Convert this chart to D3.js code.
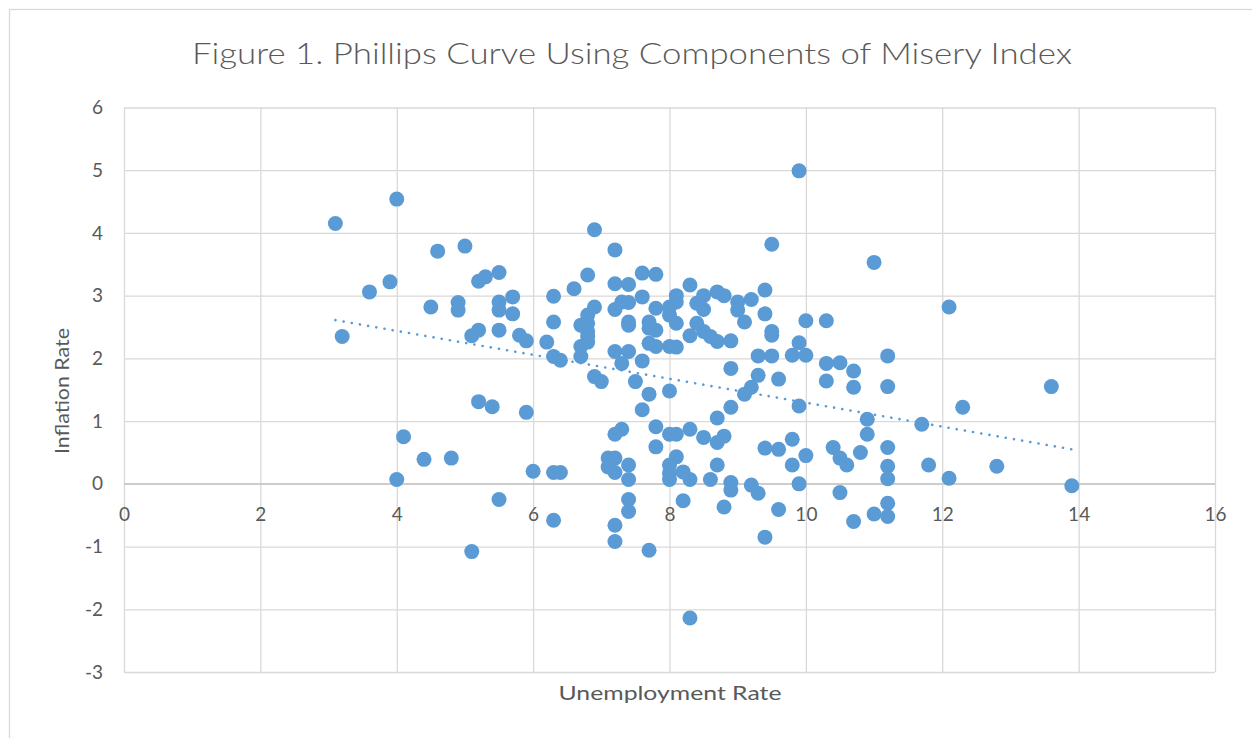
<!DOCTYPE html>
<html>
<head>
<meta charset="utf-8">
<script src="https://cdn.jsdelivr.net/npm/d3@7"></script>
<style>
  body { margin: 0; background: #fff; }
  svg { display: block; font-family: Lato, "Open Sans", sans-serif; }
  .grid line { stroke: #d9d9d9; stroke-width: 1.3; }
  .grid path { display: none; }
  .lbl text { fill: #595959; font-size: 19px; font-family: Lato, "Open Sans", sans-serif; }
  .lbl path, .lbl line { display: none; }
</style>
</head>
<body>
<svg id="chart" width="1252" height="738"></svg>
<script>
// data
var unemployment = [
  3.1, 3.2, 3.6, 3.9, 4.0, 4.0, 4.1, 4.4, 4.5, 4.6, 4.8, 4.9, 4.9, 5.0, 5.1, 5.1, 5.2, 5.2, 5.2, 5.3,
  5.4, 5.5, 5.5, 5.5, 5.5, 5.5, 5.7, 5.7, 5.8, 5.9, 5.9, 6.0, 6.2, 6.3, 6.3, 6.3, 6.3, 6.3, 6.4, 6.4,
  6.6, 6.7, 6.7, 6.7, 6.8, 6.8, 6.8, 6.8, 6.8, 6.8, 6.9, 6.9, 6.9, 7.0, 7.1, 7.1, 7.2, 7.2, 7.2, 7.2,
  7.2, 7.2, 7.2, 7.2, 7.2, 7.3, 7.3, 7.3, 7.4, 7.4, 7.4, 7.4, 7.4, 7.4, 7.4, 7.4, 7.4, 7.5, 7.6, 7.6,
  7.6, 7.6, 7.7, 7.7, 7.7, 7.7, 7.7, 7.8, 7.8, 7.8, 7.8, 7.8, 7.8, 8.0, 8.0, 8.0, 8.0, 8.0, 8.0, 8.0,
  8.0, 8.1, 8.1, 8.1, 8.1, 8.1, 8.1, 8.2, 8.2, 8.3, 8.3, 8.3, 8.3, 8.3, 8.4, 8.4, 8.5, 8.5, 8.5, 8.5,
  8.6, 8.6, 8.7, 8.7, 8.7, 8.7, 8.7, 8.8, 8.8, 8.8, 8.9, 8.9, 8.9, 8.9, 8.9, 9.0, 9.0, 9.1, 9.1, 9.2,
  9.2, 9.2, 9.3, 9.3, 9.3, 9.4, 9.4, 9.4, 9.4, 9.5, 9.5, 9.5, 9.5, 9.6, 9.6, 9.6, 9.8, 9.8, 9.8, 9.9,
  9.9, 9.9, 9.9, 10.0, 10.0, 10.0, 10.3, 10.3, 10.3, 10.4, 10.5, 10.5, 10.5, 10.6, 10.7, 10.7, 10.7, 10.8, 10.9, 10.9,
  11.0, 11.0, 11.2, 11.2, 11.2, 11.2, 11.2, 11.2, 11.2, 11.7, 11.8, 12.1, 12.1, 12.3, 12.8, 13.6, 13.9
];
var inflation = [
  4.15, 2.35, 3.06, 3.22, 4.54, 0.07, 0.75, 0.39, 2.82, 3.71, 0.41, 2.89, 2.77, 3.79, 2.36, -1.08, 3.23, 2.45, 1.31, 3.30,
  1.23, 3.37, 2.90, 2.77, 2.45, -0.25, 2.98, 2.71, 2.37, 2.28, 1.14, 0.20, 2.26, 2.99, 2.58, 2.03, 0.18, -0.58, 1.97, 0.18,
  3.11, 2.53, 2.19, 2.03, 3.33, 2.69, 2.56, 2.43, 2.35, 2.26, 4.05, 2.82, 1.71, 1.63, 0.41, 0.27, 3.73, 3.19, 2.78, 2.11,
  0.79, 0.41, 0.18, -0.66, -0.92, 1.92, 2.90, 0.87, 3.18, 2.89, 2.58, 2.53, 2.11, 0.30, 0.07, -0.25, -0.44, 1.63, 3.36, 2.98,
  1.96, 1.18, 2.58, 2.48, 2.24, 1.43, -1.06, 3.34, 2.80, 2.45, 2.19, 0.91, 0.59, 2.82, 2.69, 2.19, 1.48, 0.79, 0.30, 0.17,
  0.07, 3.00, 2.90, 2.56, 2.18, 0.79, 0.43, 0.19, -0.27, 3.17, 2.36, 0.87, 0.07, -2.14, 2.88, 2.56, 3.00, 2.78, 2.43, 0.74,
  2.35, 0.07, 3.06, 2.27, 1.05, 0.66, 0.30, 3.00, 0.76, -0.37, 2.28, 1.84, 1.22, 0.02, -0.10, 2.90, 2.77, 2.58, 1.43, 2.94,
  1.54, -0.02, 2.04, 1.73, -0.15, 3.09, 2.71, 0.57, -0.85, 3.82, 2.43, 2.37, 2.04, 1.67, 0.55, -0.41, 0.71, 0.30, 2.05, 4.99,
  2.25, 1.24, 0.00, 2.60, 2.05, 0.45, 2.60, 1.92, 1.64, 0.58, 1.93, 0.41, -0.14, 0.30, 1.80, 1.54, -0.60, 0.50, 1.03, 0.79,
  3.53, -0.48, 2.04, 1.55, 0.58, 0.28, 0.08, -0.31, -0.52, 0.95, 0.30, 2.82, 0.09, 1.22, 0.28, 1.55, -0.03
];
// linear trendline end points as drawn
var trendX = [3.1, 13.9];
var trendY = [2.61, 0.55];

var xTicks = [0, 2, 4, 6, 8, 10, 12, 14, 16];
var yTicks = [-3, -2, -1, 0, 1, 2, 3, 4, 5, 6];

var titleText = "Figure 1. Phillips Curve Using Components of Misery Index";
var xTitle = "Unemployment Rate";
var yTitle = "Inflation Rate";

// ------------------------------------------------------------------
var svg = d3.select("#chart");
var plotLeft = 124, plotRight = 1215, plotTop = 107.5, plotBottom = 672;

var x = d3.scaleLinear().domain([0, 16]).range([plotLeft, plotRight]);
var y = d3.scaleLinear().domain([-3, 6]).range([plotBottom, plotTop]);

// excel style labels, plain hyphen for negatives
var plain = function (d) { return String(d) };

// outer chart border
svg.append("rect")
    .attr("x", 9.5).attr("y", 9.5)
    .attr("width", 1260).attr("height", 760)
    .attr("fill", "none")
    .attr("stroke", "#d9d9d9")
    .attr("stroke-width", 1.3);

// gridlines
svg.append("g")
    .attr("class", "grid")
    .attr("transform", "translate(0," + plotBottom + ")")
    .call(d3.axisBottom(x).tickValues(xTicks).tickSize(-(plotBottom - plotTop)).tickFormat(""));

svg.append("g")
    .attr("class", "grid")
    .attr("transform", "translate(" + plotLeft + ",0)")
    .call(d3.axisLeft(y).tickValues(yTicks).tickSize(-(plotRight - plotLeft)).tickFormat(""));

// horizontal axis line at zero
svg.append("line")
    .attr("x1", plotLeft).attr("x2", plotRight)
    .attr("y1", y(0)).attr("y2", y(0))
    .attr("stroke", "#bfbfbf")
    .attr("stroke-width", 1.3);

// tick labels
svg.append("g")
    .attr("class", "lbl")
    .attr("transform", "translate(0," + y(0) + ")")
    .call(d3.axisBottom(x).tickValues(xTicks).tickSize(0).tickPadding(24).tickFormat(plain));

svg.append("g")
    .attr("class", "lbl")
    .attr("transform", "translate(" + plotLeft + ",0)")
    .call(d3.axisLeft(y).tickValues(yTicks).tickSize(0).tickPadding(21).tickFormat(plain));

// points
var pts = unemployment.map(function (u, i) { return { u: u, v: inflation[i] } });
svg.append("g")
    .selectAll("circle")
    .data(pts)
    .enter()
    .append("circle")
    .attr("cx", function (d) { return x(d.u) })
    .attr("cy", function (d) { return y(d.v) })
    .attr("r", 7.5)
    .attr("fill", "#5b9bd5");

// trendline (dotted)
svg.append("line")
    .attr("x1", x(trendX[0])).attr("y1", y(trendY[0]))
    .attr("x2", x(trendX[1])).attr("y2", y(trendY[1]))
    .attr("stroke", "#5b9bd5")
    .attr("stroke-width", 2.6)
    .attr("stroke-linecap", "round")
    .attr("stroke-dasharray", "0.1 8.2");

// titles
svg.append("text")
    .attr("x", 632).attr("y", 64)
    .attr("text-anchor", "middle")
    .attr("textLength", 880)
    .attr("lengthAdjust", "spacingAndGlyphs")
    .style("font-size", "30px")
    .style("font-weight", 300)
    .style("fill", "#595959")
    .text(titleText);

svg.append("text")
    .attr("x", 670).attr("y", 700)
    .attr("text-anchor", "middle")
    .attr("textLength", 223)
    .attr("lengthAdjust", "spacingAndGlyphs")
    .style("font-size", "20px")
    .style("fill", "#595959")
    .text(xTitle);

svg.append("text")
    .attr("transform", "translate(69,391) rotate(-90)")
    .attr("text-anchor", "middle")
    .attr("textLength", 126)
    .attr("lengthAdjust", "spacingAndGlyphs")
    .style("font-size", "20px")
    .style("fill", "#595959")
    .text(yTitle);
</script>
</body>
</html>
